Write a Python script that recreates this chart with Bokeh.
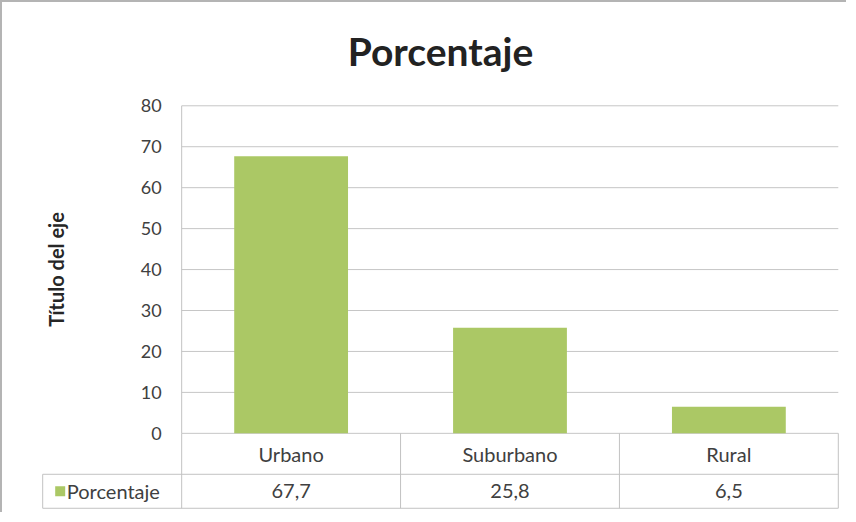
from bokeh.plotting import figure
from bokeh.models import FixedTicker, ColumnDataSource, Range1d
from bokeh.core.properties import value
from bokeh.embed import file_html
from bokeh.resources import INLINE

# ---- data ----
CATEGORIES = ["Urbano", "Suburbano", "Rural"]
PORCENTAJE = [67.7, 25.8, 6.5]
Y_TICKS = [0, 10, 20, 30, 40, 50, 60, 70, 80]
SERIES_NAME = "Porcentaje"
TITLE = "Porcentaje"
Y_TITLE = "Título del eje"

# ---- style ----
FONT = "Lato"
GREEN = "#abc865"
GRID = "#c6c6c6"
TABLE = "#c2c2c2"
TEXT = "#404040"

n = len(CATEGORIES)
LEG_W = 0.635        # width of the legend cell (category units)
ROW1 = -10.0         # bottom of the category-label row
ROW2 = -18.3         # bottom of the value row

p = figure(width=846, height=512, output_backend="svg", toolbar_location=None,
           x_range=Range1d(-LEG_W - 0.01, n + 0.01),
           y_range=Range1d(ROW2 - 0.3, max(Y_TICKS) + 3),
           min_border_left=38, min_border_right=8, min_border_top=91, min_border_bottom=5,
           title=TITLE)
p.styles = {"border-left": "2px solid #b4b4b4", "border-top": "2px solid #b4b4b4"}
p.outline_line_color = None
p.background_fill_color = "white"
p.border_fill_color = "white"

p.title.align = "center"
p.title.text_font = FONT
p.title.text_font_size = "39px"
p.title.text_font_style = "bold"
p.title.text_color = "#222222"
p.title.standoff = 40
p.title.offset = -8

p.xaxis.visible = False
p.xgrid.visible = False
p.ygrid.visible = False

ax = p.yaxis[0]
ax.fixed_location = 0
ax.bounds = (min(Y_TICKS), max(Y_TICKS))
ax.ticker = FixedTicker(ticks=Y_TICKS)
ax.axis_line_color = None
ax.major_tick_line_color = None
ax.minor_tick_line_color = None
ax.major_tick_out = 0
ax.major_tick_in = 0
ax.major_label_standoff = 20
ax.major_label_text_font = FONT
ax.major_label_text_font_size = "18px"
ax.major_label_text_color = TEXT
ax.axis_label = Y_TITLE
ax.axis_label_text_font = FONT
ax.axis_label_text_font_size = "20px"
ax.axis_label_text_font_style = "bold"
ax.axis_label_text_color = "#262626"
ax.axis_label_standoff = 70

# gridlines across the plot area
p.segment(x0=[0] * len(Y_TICKS), y0=Y_TICKS, x1=[n] * len(Y_TICKS), y1=Y_TICKS,
          line_color=GRID, line_width=1)

# bars
src = ColumnDataSource(dict(
    x=[i + 0.5 for i in range(n)],
    top=PORCENTAJE,
    cat=CATEGORIES,
    lbl=[f"{v:.1f}".replace(".", ",") for v in PORCENTAJE],
))
p.vbar(x="x", top="top", bottom=0, width=0.52, source=src,
       fill_color=GREEN, line_color=None)

# data table lines
vx = list(range(n + 1))
p.segment(x0=vx, y0=[ROW2] * len(vx), x1=vx, y1=[0] * len(vx), line_color=TABLE, line_width=1)
p.segment(x0=[0], y0=[0], x1=[0], y1=[max(Y_TICKS)], line_color=TABLE, line_width=1)
p.segment(x0=[-LEG_W, -LEG_W, -LEG_W], y0=[ROW1, ROW2, ROW2],
          x1=[n, n, -LEG_W], y1=[ROW1, ROW2, ROW1], line_color=TABLE, line_width=1)

# table texts
p.text(x="x", y=ROW1 / 2, text="cat", source=src, text_align="center",
       text_baseline="middle", text_font=value(FONT), text_font_size="20px", text_color=TEXT)
p.text(x="x", y=(ROW1 + ROW2) / 2, text="lbl", source=src, text_align="center",
       text_baseline="middle", text_font=value(FONT), text_font_size="20px", text_color=TEXT)

# legend key in the table
p.scatter(x=[-LEG_W + 0.08], y=[(ROW1 + ROW2) / 2], marker="square", size=10,
          fill_color=GREEN, line_color=None)
p.text(x=[-LEG_W + 0.11], y=[(ROW1 + ROW2) / 2], text=[SERIES_NAME], text_align="left",
       text_baseline="middle", text_font=value(FONT), text_font_size="20px", text_color=TEXT)

open("out.html", "w").write(file_html(p, INLINE))
